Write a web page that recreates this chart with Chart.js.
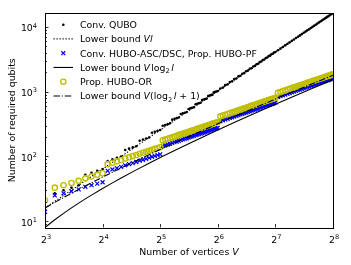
<!DOCTYPE html>
<html>
<head>
<meta charset="utf-8">
<script src="https://cdn.jsdelivr.net/npm/chart.js@4.4.1/dist/chart.umd.min.js"></script>
<style>
  html, body { margin: 0; padding: 0; background: #fff; }
  canvas { display: block; }
</style>
</head>
<body>
<canvas id="chart" width="351" height="265"></canvas>
<script>
// number of vertices V for the marker series
const vertices = [8,9,10,11,12,13,14,15,16,17,18,19,20,21,22,23,24,25,26,27,28,29,30,31,32,33,34,35,36,37,38,39,40,
  41,42,43,44,45,46,47,48,49,50,51,52,53,54,55,56,57,58,59,60,61,62,63,64,
  66,68,70,72,74,76,78,80,82,84,86,88,90,92,94,96,98,100,102,104,106,108,110,112,114,116,118,120,122,124,126,128,
  132,136,140,144,148,152,156,160,164,168,172,176,180,184,188,192,196,200,204,208,212,216,220,224,228,232,236,240,244,248,252,256];

// required qubits
const convQubo = [16,27,30,33,36,52,56,60,64,85,90,95,100,126,132,138,144,175,182,189,196,232,240,248,256,297,306,315,324,370,380,390,400,
  451,462,473,484,540,552,564,576,637,650,663,676,742,756,770,784,855,870,885,900,976,992,1008,1024,
  1122,1156,1260,1296,1406,1444,1560,1600,1722,1764,1892,1936,2070,2116,2256,2304,2450,2500,2652,2704,2862,2916,3080,3136,3306,3364,3540,3600,3782,3844,4032,4096,
  4356,4624,4900,5184,5476,5776,6084,6400,6724,7056,7396,7744,8100,8464,8836,9216,9604,10000,10404,10816,11236,11664,12100,12544,12996,13456,13924,14400,14884,15376,15876,16384];
const convHubo = [14,25,27,29,31,34,36,38,40,60,63,66,69,73,76,79,82,86,89,92,95,99,102,105,108,145,149,153,157,162,166,170,174,
  179,183,187,191,196,200,204,208,213,217,221,225,230,234,238,242,247,251,255,259,264,268,272,276,
  351,361,372,382,393,403,414,424,435,445,456,466,477,487,498,508,519,529,540,550,561,571,582,592,603,613,624,634,645,655,666,676,
  829,854,879,904,929,954,979,1004,1029,1054,1079,1104,1129,1154,1179,1204,1229,1254,1279,1304,1329,1354,1379,1404,1429,1454,1479,1504,1529,1554,1579,1604];
const propHuboOr = [21,33,36,39,42,46,49,52,55,76,80,84,88,93,97,101,105,110,114,118,122,127,131,135,139,177,182,187,192,198,203,208,213,
  219,224,229,234,240,245,250,255,261,266,271,276,282,287,292,297,303,308,313,318,324,329,334,339,
  416,428,441,453,466,478,491,503,516,528,541,553,566,578,591,603,616,628,641,653,666,678,691,703,716,728,741,753,766,778,791,803,
  960,989,1018,1047,1076,1105,1134,1163,1192,1221,1250,1279,1308,1337,1366,1395,1424,1453,1482,1511,1540,1569,1598,1627,1656,1685,1714,1743,1772,1801,1830,1859];

// lower bounds
const boundV = [8,9,10,11,12,13,14,16,18,20,24,28,32,40,48,64,80,96,128,160,192,256];
const boundVl = [16,20.25,25,30.25,36,42.25,49,64,81,100,144,196,256,400,576,1024,1600,2304,4096,6400,9216,16384];
const boundVlog = [8,10.53,13.22,16.05,19.02,22.11,25.3,32,39.06,46.44,62.04,78.61,96,132.9,172.1,256,345.8,440.2,640,851.5,1072.3,1536];
const boundVlog1 = [16,19.53,23.22,27.05,31.02,35.11,39.3,48,57.06,66.44,86.04,106.61,128,172.9,220.1,320,425.8,536.2,768,1011.5,1264.3,1792];

const xTicks = [8,16,32,64,128,256];
const xTickExp = ["3","4","5","6","7","8"];
const yTicks = [10,100,1000,10000];
const yTickExp = ["1","2","3","4"];

const FONT = "DejaVu Sans";
const FS = 9.4;

function pts(xs, ys) { return xs.map((x, i) => ({ x: x, y: ys[i] })); }

// text pieces: [text, style] with style n / i / sub / sup / gap
function drawRich(ctx, parts, x, y, align) {
  const fontOf = s => (s === "i" ? "italic " : "") + (s === "sub" || s === "sup" ? FS * 0.7 : FS) + "px " + FONT;
  let w = 0;
  parts.forEach(([t, s]) => {
    if (s === "gap") { w += t; return; }
    ctx.font = fontOf(s); w += ctx.measureText(t).width;
  });
  let cx = align === "right" ? x - w : align === "center" ? x - w / 2 : x;
  parts.forEach(([t, s]) => {
    if (s === "gap") { cx += t; return; }
    ctx.font = fontOf(s);
    const dy = s === "sub" ? 2.3 : s === "sup" ? -3.9 : 0;
    ctx.fillText(t, cx, y + dy);
    cx += ctx.measureText(t).width;
  });
}

const legendRows = [
  [["Conv. QUBO", "n"]],
  [["Lower bound ", "n"], ["Vl", "i"]],
  [["Conv. HUBO-ASC/DSC, Prop. HUBO-PF", "n"]],
  [["Lower bound ", "n"], ["V", "i"], [1.2, "gap"], ["log", "n"], ["2", "sub"], [1.6, "gap"], ["l", "i"]],
  [["Prop. HUBO-OR", "n"]],
  [["Lower bound ", "n"], ["V", "i"], ["(log", "n"], ["2", "sub"], [1.6, "gap"], ["l", "i"], [" + 1)", "n"]]
];

function drawMarker(ctx, ds, x, y) {
  ctx.save();
  ctx.strokeStyle = ds.borderColor;
  ctx.fillStyle = ds.backgroundColor;
  ctx.lineWidth = ds.pointBorderWidth;
  const r = ds.pointRadius;
  ctx.beginPath();
  if (ds.pointStyle === "crossRot") {
    const d = r * Math.SQRT1_2;
    ctx.moveTo(x - d, y - d); ctx.lineTo(x + d, y + d);
    ctx.moveTo(x - d, y + d); ctx.lineTo(x + d, y - d);
    ctx.stroke();
  } else {
    ctx.arc(x, y, r, 0, Math.PI * 2);
    if (ds.pointBorderWidth > 0) ctx.stroke(); else ctx.fill();
  }
  ctx.restore();
}

const decor = {
  id: "decor",
  afterDraw(chart) {
    const { ctx, chartArea: a, scales: { x, y } } = chart;
    ctx.save();
    ctx.strokeStyle = "#000";
    ctx.fillStyle = "#000";
    ctx.lineWidth = 1;
    ctx.strokeRect(Math.round(a.left) + 0.5, Math.round(a.top) + 0.5,
      Math.round(a.right) - Math.round(a.left), Math.round(a.bottom) - Math.round(a.top));

    // inward ticks
    ctx.lineWidth = 0.8;
    ctx.beginPath();
    x.ticks.forEach(t => {
      const px = Math.round(x.getPixelForValue(t.value)) + 0.5;
      ctx.moveTo(px, a.bottom); ctx.lineTo(px, a.bottom - 3.5);
    });
    y.ticks.forEach(t => {
      const py = Math.round(y.getPixelForValue(t.value)) + 0.5;
      ctx.moveTo(a.left, py); ctx.lineTo(a.left + 3.5, py);
    });
    for (let k = 0; k <= 4; k++) {
      for (let m = 2; m <= 9; m++) {
        const v = m * Math.pow(10, k);
        if (v < y.min || v > y.max) continue;
        const py = Math.round(y.getPixelForValue(v)) + 0.5;
        ctx.moveTo(a.left, py); ctx.lineTo(a.left + 2, py);
      }
    }
    ctx.stroke();

    // tick labels
    ctx.textBaseline = "alphabetic";
    x.ticks.forEach((t, i) => {
      const px = x.getPixelForValue(t.value);
      drawRich(ctx, [["2", "n"], [xTickExp[i], "sup"]], px + 1, a.bottom + 15, "center");
    });
    y.ticks.forEach((t, i) => {
      const py = y.getPixelForValue(t.value);
      drawRich(ctx, [["10", "n"], [yTickExp[i], "sup"]], a.left - 8, py + 4.6, "right");
    });

    // axis titles
    drawRich(ctx, [["Number of vertices ", "n"], ["V", "i"]], (a.left + a.right) / 2, 254.5, "center");
    ctx.save();
    ctx.translate(14.5, (a.top + a.bottom) / 2);
    ctx.rotate(-Math.PI / 2);
    drawRich(ctx, [["Number of required qubits", "n"]], 0, 0, "center");
    ctx.restore();

    // legend
    const sets = chart.data.datasets;
    legendRows.forEach((parts, i) => {
      const ds = sets[i];
      const ry = 24.7 + 14.25 * i;
      if (ds.showLine) {
        ctx.save();
        ctx.strokeStyle = ds.borderColor;
        ctx.lineWidth = ds.borderWidth;
        ctx.setLineDash(ds.borderDash || []);
        ctx.beginPath();
        ctx.moveTo(53.5, ry); ctx.lineTo(73, ry);
        ctx.stroke();
        ctx.restore();
      } else {
        drawMarker(ctx, ds, 63.3, ry);
      }
      drawRich(ctx, parts, 80, ry + 3.5, "left");
    });
    ctx.restore();
  }
};

const datasets = [
  { label: "Conv. QUBO", data: pts(vertices, convQubo), showLine: false,
    pointStyle: "circle", pointRadius: 1.3, pointBorderWidth: 0,
    backgroundColor: "#000", borderColor: "#000", order: 6 },
  { label: "Lower bound Vl", data: pts(boundV, boundVl), showLine: true, pointRadius: 0,
    borderColor: "#000", borderWidth: 1.2, borderDash: [1.2, 1.8], order: 5 },
  { label: "Conv. HUBO-ASC/DSC, Prop. HUBO-PF", data: pts(vertices, convHubo), showLine: false,
    pointStyle: "crossRot", pointRadius: 2.8, pointBorderWidth: 1.2,
    backgroundColor: "#0000ff", borderColor: "#0000ff", order: 4 },
  { label: "Lower bound Vlog2 l", data: pts(boundV, boundVlog), showLine: true, pointRadius: 0,
    borderColor: "#000", borderWidth: 1.1, order: 3 },
  { label: "Prop. HUBO-OR", data: pts(vertices, propHuboOr), showLine: false,
    pointStyle: "circle", pointRadius: 2.6, pointBorderWidth: 1.4,
    backgroundColor: "rgba(0,0,0,0)", borderColor: "#bfbf00", order: 2 },
  { label: "Lower bound V(log2 l + 1)", data: pts(boundV, boundVlog1), showLine: true, pointRadius: 0,
    borderColor: "#000", borderWidth: 1.1, borderDash: [6.5, 1.8, 1.1, 1.8], order: 1 }
];
datasets.forEach(d => { d.clip = 0; d.pointHoverRadius = d.pointRadius; });

new Chart(document.getElementById("chart"), {
  type: "scatter",
  data: { datasets: datasets },
  options: {
    responsive: false,
    devicePixelRatio: 1,
    animation: false,
    events: [],
    layout: { padding: { top: 13, right: 18, left: 0, bottom: 0 } },
    plugins: { legend: { display: false }, tooltip: { enabled: false }, title: { display: false } },
    scales: {
      x: {
        type: "logarithmic", min: 8, max: 256,
        afterBuildTicks: s => { s.ticks = xTicks.map(v => ({ value: v })); },
        afterFit: s => { s.height = 37.5; },
        ticks: { display: false },
        grid: { display: false },
        border: { display: false }
      },
      y: {
        type: "logarithmic", min: 8, max: 16384,
        afterBuildTicks: s => { s.ticks = yTicks.map(v => ({ value: v })); },
        afterFit: s => { s.width = 45; },
        ticks: { display: false },
        grid: { display: false },
        border: { display: false }
      }
    }
  },
  plugins: [decor]
});
</script>
</body>
</html>
